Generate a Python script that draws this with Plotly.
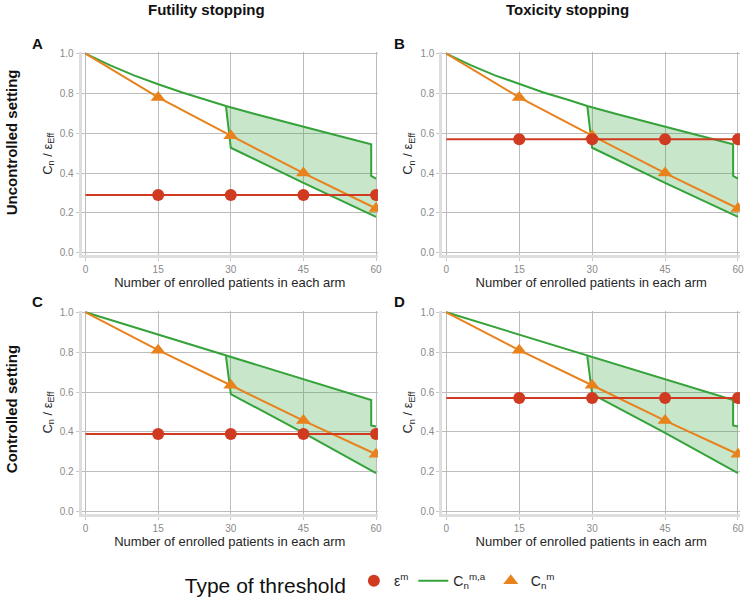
import plotly.graph_objects as go

# ---------------- data ----------------
n_marks = [0, 15, 30, 45, 60]
eps_vals = {"A": 0.29, "B": 0.57, "C": 0.39, "D": 0.57}

orange_unc = [1.0, 0.78, 0.588, 0.40, 0.222]
orange_con = [1.0, 0.81, 0.634, 0.457, 0.288]

upper_n_unc = [0, 5, 10, 15, 20, 25, 29, 35, 40, 45, 50, 55, 59, 59, 60]
upper_unc = [1.0, 0.942, 0.891, 0.846, 0.805, 0.768, 0.737, 0.697, 0.664, 0.632, 0.601, 0.570, 0.545, 0.386, 0.372]
lower_n_unc = [29, 29.6, 30, 45, 60]
lower_unc = [0.737, 0.605, 0.527, 0.351, 0.18]

upper_n_con = [0, 15, 29, 45, 59, 59, 60]
upper_con = [1.0, 0.888, 0.78, 0.662, 0.56, 0.432, 0.427]
lower_n_con = [29, 29.6, 30, 45, 60]
lower_con = [0.78, 0.645, 0.59, 0.395, 0.193]

x_ticks = [0, 15, 30, 45, 60]
y_ticks = [0.0, 0.2, 0.4, 0.6, 0.8, 1.0]

RED = "#CF3A21"
ORANGE = "#E8821C"
GREEN = "#35A33A"
FILL = "rgba(53,163,58,0.27)"

panels = [
    ("A", 1, orange_unc, upper_n_unc, upper_unc, lower_n_unc, lower_unc),
    ("B", 2, orange_unc, upper_n_unc, upper_unc, lower_n_unc, lower_unc),
    ("C", 3, orange_con, upper_n_con, upper_con, lower_n_con, lower_con),
    ("D", 4, orange_con, upper_n_con, upper_con, lower_n_con, lower_con),
]

fig = go.Figure()
for letter, k, orng, un, uv, ln, lv in panels:
    xa = "x" if k == 1 else f"x{k}"
    ya = "y" if k == 1 else f"y{k}"
    first = k == 1
    # shaded region: upper from apex onward, then lower reversed
    start = un.index(ln[0])
    fx = un[start:] + [ln[-1]] + ln[::-1][1:]
    fy = uv[start:] + [lv[-1]] + lv[::-1][1:]
    fig.add_trace(go.Scatter(x=fx, y=fy, fill="toself", fillcolor=FILL, mode="none",
                             xaxis=xa, yaxis=ya, showlegend=False, hoverinfo="skip"))
    fig.add_trace(go.Scatter(x=un, y=uv, mode="lines", line=dict(color=GREEN, width=2),
                             xaxis=xa, yaxis=ya, showlegend=first, legendrank=2,
                             name="C<sub>n</sub><sup>m,a</sup>"))
    fig.add_trace(go.Scatter(x=ln, y=lv, mode="lines", line=dict(color=GREEN, width=2),
                             xaxis=xa, yaxis=ya, showlegend=False))
    fig.add_trace(go.Scatter(x=n_marks, y=orng, mode="lines", line=dict(color=ORANGE, width=2),
                             xaxis=xa, yaxis=ya, showlegend=False))
    fig.add_trace(go.Scatter(x=n_marks[1:], y=orng[1:], mode="markers",
                             marker=dict(symbol="triangle-up", size=13, color=ORANGE),
                             xaxis=xa, yaxis=ya, showlegend=first, legendrank=3,
                             name="C<sub>n</sub><sup>m</sup>"))
    e = eps_vals[letter]
    fig.add_trace(go.Scatter(x=[n_marks[0], n_marks[-1]], y=[e, e], mode="lines",
                             line=dict(color=RED, width=2),
                             xaxis=xa, yaxis=ya, showlegend=False))
    fig.add_trace(go.Scatter(x=n_marks[1:], y=[e] * 4, mode="markers",
                             marker=dict(symbol="circle", size=12, color=RED),
                             xaxis=xa, yaxis=ya, showlegend=first, legendrank=1,
                             name="ε<sup>m</sup>"))

W, H = 750, 606
xdom = {1: [82.1 / W, 380 / W], 2: [444.8 / W, 743.9 / W]}
ydom = {1: [1 - 254 / H, 1 - 49 / H], 2: [1 - 516 / H, 1 - 310.7 / H]}

def xaxis(col, ya):
    return dict(domain=xdom[col], range=[-0.8, 60.4], anchor=ya, tickvals=x_ticks,
                showgrid=True, gridcolor="#bcbcbc", gridwidth=1.3, zeroline=False,
                showline=True, linecolor="#dedede", linewidth=3,
                ticks="outside", ticklen=3, tickcolor="#c8c8c8",
                tickfont=dict(size=10, color="#8a8a8a"),
                title=dict(text="Number of enrolled patients in each arm",
                           font=dict(size=13, color="#262626"), standoff=2))

def yaxis(row, xa):
    return dict(domain=ydom[row], range=[-0.012, 1.006], anchor=xa, tickvals=y_ticks,
                tickformat=".1f",
                showgrid=True, gridcolor="#bcbcbc", gridwidth=1.3, zeroline=False,
                showline=True, linecolor="#dedede", linewidth=3,
                ticks="outside", ticklen=3, tickcolor="#c8c8c8",
                tickfont=dict(size=10, color="#8a8a8a"),
                title=dict(text="C<sub>n</sub> / ε<sub>Eff</sub>",
                           font=dict(size=13, color="#262626"), standoff=5))

fig.update_layout(
    width=W, height=H, margin=dict(l=0, r=0, t=0, b=0),
    paper_bgcolor="white", plot_bgcolor="white",
    font=dict(family="Liberation Sans, Arial, sans-serif"),
    xaxis=xaxis(1, "y"), yaxis=yaxis(1, "x"),
    xaxis2=xaxis(2, "y2"), yaxis2=yaxis(1, "x2"),
    xaxis3=xaxis(1, "y3"), yaxis3=yaxis(2, "x3"),
    xaxis4=xaxis(2, "y4"), yaxis4=yaxis(2, "x4"),
    legend=dict(orientation="h", x=0.245, xanchor="left", y=1 - 587 / H, yanchor="middle",
                title=dict(text="Type of threshold", font=dict(size=21, color="#111111")),
                font=dict(size=14, color="#262626"), itemwidth=30,
                traceorder="normal", bgcolor="rgba(0,0,0,0)"),
    showlegend=True,
)

ann = []
for text, x in [("Futility stopping", 208), ("Toxicity stopping", 571)]:
    ann.append(dict(text=f"<b>{text}</b>", x=x / W, y=1 - 6 / H, xref="paper", yref="paper",
                    xanchor="center", yanchor="middle",
                    showarrow=False, font=dict(size=15, color="#111111")))
for text, y in [("Uncontrolled setting", 140), ("Controlled setting", 410)]:
    ann.append(dict(text=f"<b>{text}</b>", x=11 / W, y=1 - y / H, xref="paper", yref="paper",
                    xanchor="center", yanchor="middle",
                    textangle=-90, showarrow=False, font=dict(size=15, color="#111111")))
for text, x, y in [("A", 38, 40), ("B", 402, 40), ("C", 38, 301), ("D", 402, 301)]:
    ann.append(dict(text=f"<b>{text}</b>", x=x / W, y=1 - y / H, xref="paper", yref="paper",
                    xanchor="center", yanchor="middle",
                    showarrow=False, font=dict(size=15, color="#111111")))
fig.update_layout(annotations=ann)

fig.write_html("out.html")
